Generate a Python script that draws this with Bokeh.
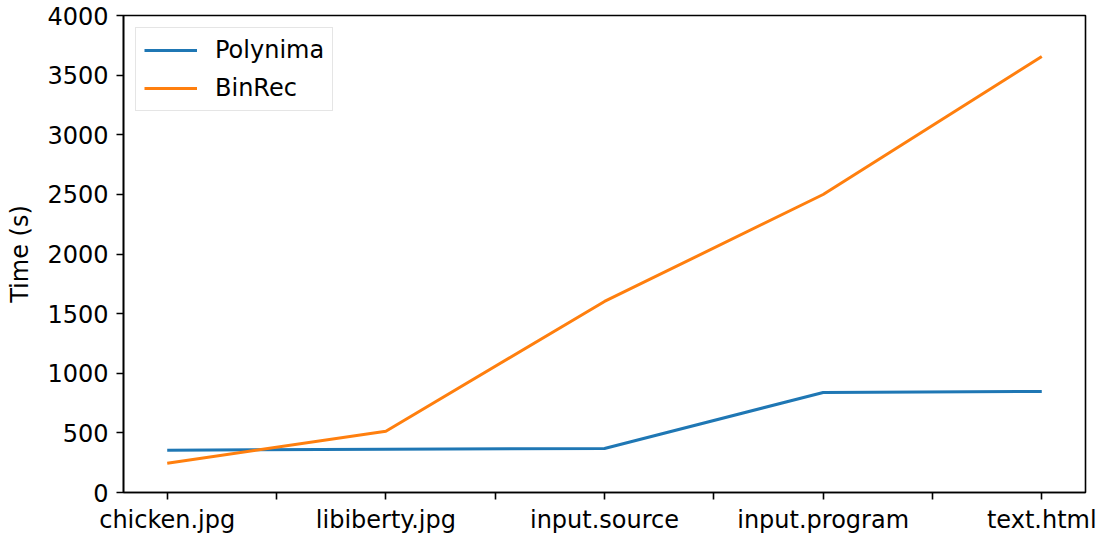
from bokeh.plotting import figure
from bokeh.models import FixedTicker, Range1d, Legend, LegendItem
from bokeh.embed import file_html
from bokeh.resources import INLINE

categories = ["chicken.jpg", "libiberty.jpg", "input.source", "input.program", "text.html"]
polynima = [355, 362, 369, 839, 847]
binrec = [246, 514, 1602, 2499, 3656]
y_ticks = [0, 500, 1000, 1500, 2000, 2500, 3000, 3500, 4000]

xs = list(range(len(categories)))
FONT = "DejaVu Sans"
FS = "24px"

p = figure(width=1100, height=536, output_backend="svg", toolbar_location=None,
           x_range=Range1d(-0.2, len(categories) - 1 + 0.2), y_range=Range1d(0, 4000),
           min_border_left=123, min_border_right=15, min_border_top=15, min_border_bottom=44)
p.background_fill_color = "white"
p.border_fill_color = "white"
p.grid.visible = False
p.outline_line_color = "black"
p.outline_line_width = 1.6
p.outline_line_alpha = 1.0

r1 = p.line(xs, polynima, line_color="#1f77b4", line_width=3)
r2 = p.line(xs, binrec, line_color="#ff7f0e", line_width=3)

half_ticks = [i * 0.5 for i in range(2 * (len(categories) - 1) + 1)]
overrides = {}
for t in half_ticks:
    if float(t).is_integer():
        overrides[t] = categories[int(t)]
    else:
        overrides[t] = ""
p.xaxis.ticker = FixedTicker(ticks=half_ticks)
p.xaxis.major_label_overrides = overrides
p.yaxis.ticker = FixedTicker(ticks=y_ticks)
p.yaxis.axis_label = "Time (s)"

for ax in (p.xaxis, p.yaxis):
    ax.axis_line_color = "black"
    ax.axis_line_width = 1.6
    ax.major_tick_line_color = "black"
    ax.major_tick_line_width = 1.6
    ax.major_tick_in = 0
    ax.major_tick_out = 7
    ax.minor_tick_line_color = None
    ax.major_label_text_font = FONT
    ax.major_label_text_font_size = FS
    ax.major_label_text_color = "black"
    ax.axis_label_text_font = FONT
    ax.axis_label_text_font_size = FS
    ax.axis_label_text_font_style = "normal"
    ax.axis_label_text_color = "black"

p.xaxis.major_label_standoff = 6
p.yaxis.major_label_standoff = 8
p.yaxis.axis_label_standoff = 10

legend = Legend(items=[LegendItem(label="Polynima", renderers=[r1]),
                       LegendItem(label="BinRec", renderers=[r2])],
                location="top_left")
legend.margin = 12
legend.padding = 8
legend.spacing = 10
legend.glyph_width = 53
legend.glyph_height = 24
legend.label_height = 24
legend.label_standoff = 18
legend.label_text_font = FONT
legend.label_text_font_size = FS
legend.label_text_color = "black"
legend.border_line_color = "#cccccc"
legend.border_line_width = 1.5
legend.background_fill_alpha = 0.8
p.add_layout(legend)

open("out.html", "w").write(file_html(p, INLINE))
